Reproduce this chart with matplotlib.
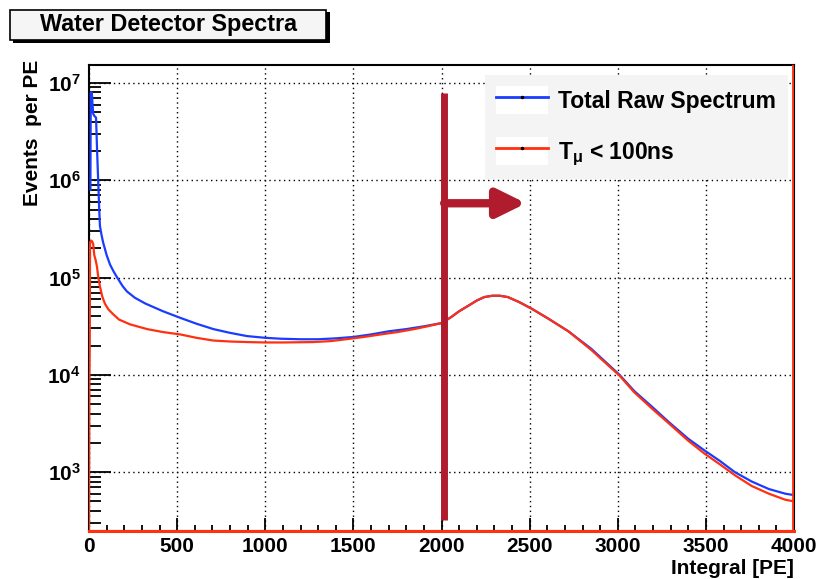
import matplotlib
matplotlib.use('Agg')
import matplotlib.pyplot as plt
from matplotlib.lines import Line2D
from matplotlib.patches import Rectangle, Patch
from matplotlib.legend_handler import HandlerTuple

# フォント設定（ROOT風のHelvetica太字）
plt.rcParams['font.family'] = ['Liberation Sans', 'DejaVu Sans']
plt.rcParams['font.weight'] = 'bold'
plt.rcParams['mathtext.fontset'] = 'custom'
plt.rcParams['mathtext.rm'] = 'Liberation Sans:bold'
plt.rcParams['mathtext.it'] = 'Liberation Sans:bold'
plt.rcParams['mathtext.bf'] = 'Liberation Sans:bold'

# 全スペクトル（青）
raw_x = [8, 10, 16, 20, 24, 30, 40, 46, 52, 58, 62, 70, 80, 100, 120, 140, 160,
         190, 215, 260, 320, 420, 518, 610, 706, 800, 897, 1000, 1087, 1200,
         1300, 1400, 1500, 1600, 1700, 1800, 1900, 2000, 2053, 2100, 2150,
         2200, 2243, 2290, 2330, 2376, 2440, 2510, 2604, 2720, 2850, 3010,
         3094, 3200, 3287, 3400, 3492, 3580, 3664, 3760, 3857, 3950, 4000]
raw_y = [8.0e5, 8.0e6, 8.0e6, 6.0e6, 4.8e6, 4.6e6, 4.4e6, 2.0e6, 1.0e6, 5.0e5,
         3.4e5, 2.8e5, 2.3e5, 1.7e5, 1.35e5, 1.15e5, 1.0e5, 8.2e4, 7.2e4,
         6.2e4, 5.4e4, 4.5e4, 3.85e4, 3.35e4, 2.95e4, 2.7e4, 2.5e4, 2.4e4,
         2.35e4, 2.32e4, 2.32e4, 2.37e4, 2.45e4, 2.6e4, 2.8e4, 2.95e4, 3.15e4,
         3.4e4, 3.9e4, 4.5e4, 5.1e4, 5.8e4, 6.3e4, 6.5e4, 6.5e4, 6.3e4, 5.6e4,
         4.8e4, 3.8e4, 2.8e4, 1.85e4, 1.0e4, 6.8e3, 4.6e3, 3.3e3, 2.2e3,
         1.67e3, 1.3e3, 1.0e3, 8.0e2, 6.7e2, 6.0e2, 5.8e2]

# T_mu < 100ns（赤）
cut_x = [0, 2, 4, 6, 12, 18, 24, 30, 38, 45, 53, 62, 75, 90, 110, 137, 170,
         233, 330, 420, 518, 610, 706, 800, 900, 1000, 1100, 1270, 1370, 1467,
         1560, 1655, 1750, 1845, 1920, 2000, 2053, 2100, 2150, 2200, 2243,
         2290, 2330, 2376, 2440, 2510, 2604, 2720, 2850, 3010, 3094, 3200,
         3287, 3400, 3492, 3580, 3664, 3760, 3857, 3950, 4000]
cut_y = [2.6e2, 8.0e3, 1.8e4, 2.3e5, 2.4e5, 2.35e5, 2.2e5, 1.7e5, 1.5e5, 1.3e5,
         1.0e5, 8.1e4, 6.4e4, 5.4e4, 4.7e4, 4.2e4, 3.7e4, 3.3e4, 2.95e4,
         2.75e4, 2.6e4, 2.4e4, 2.25e4, 2.2e4, 2.17e4, 2.15e4, 2.15e4, 2.17e4,
         2.22e4, 2.33e4, 2.45e4, 2.6e4, 2.75e4, 2.95e4, 3.15e4, 3.4e4, 3.9e4,
         4.5e4, 5.1e4, 5.8e4, 6.3e4, 6.5e4, 6.5e4, 6.3e4, 5.6e4, 4.8e4, 3.8e4,
         2.8e4, 1.8e4, 9.8e3, 6.6e3, 4.4e3, 3.2e3, 2.1e3, 1.55e3, 1.2e3,
         9.3e2, 7.2e2, 6.0e2, 5.2e2, 5.0e2]

# カット位置と矢印
cut_pos = 2015
cut_top = 7.9e6
cut_bottom = 3.2e2
arrow_y = 5.8e5
arrow_end = 2480

x_ticks = [0, 500, 1000, 1500, 2000, 2500, 3000, 3500, 4000]
y_ticks = [1e3, 1e4, 1e5, 1e6, 1e7]
y_tick_labels = [r'$10^{3}$', r'$10^{4}$', r'$10^{5}$', r'$10^{6}$', r'$10^{7}$']
x_lim = (0, 4000)
y_lim = (248, 1.53e7)

blue = '#1a3cff'
red = '#ff3010'
dark_red = '#b01c2e'

W, H = 818, 579
fig = plt.figure(figsize=(W / 100, H / 100), dpi=100)
ax = fig.add_axes([89 / W, 1 - 531 / H, (794 - 89) / W, (531 - 65) / H])

ax.set_yscale('log')
ax.set_xlim(*x_lim)
ax.set_ylim(*y_lim)

# グリッド（点線）
ax.grid(True, which='major', color='black', linestyle=(0, (1, 2.5)), linewidth=1.0)
ax.set_axisbelow(True)

ax.plot(raw_x, raw_y, color=blue, lw=1.6, zorder=3)
ax.plot(cut_x, cut_y, color=red, lw=1.6, zorder=4)
# 赤ヒストグラムの下端と右端
ax.axhline(y_lim[0], color=red, lw=2.2, zorder=4, clip_on=False)
ax.axvline(x_lim[1] - 8, color=red, lw=2.0, zorder=4)

# カット線と矢印
ax.plot([cut_pos, cut_pos], [cut_bottom, cut_top], color=dark_red, lw=5, zorder=5,
        solid_capstyle='butt')
ax.annotate('', xy=(arrow_end, arrow_y), xytext=(cut_pos, arrow_y),
            arrowprops=dict(arrowstyle='-|>,head_length=0.85,head_width=0.42',
                            color=dark_red, lw=6, shrinkA=0, shrinkB=0,
                            mutation_scale=20), zorder=5)

# 軸と目盛り
ax.set_xticks(x_ticks)
ax.set_xticks(range(0, 4001, 100), minor=True)
ax.set_yticks(y_ticks)
ax.set_yticklabels(y_tick_labels)
ax.tick_params(axis='both', which='both', direction='in', top=False, right=False,
               width=1.3, labelsize=15)
ax.tick_params(axis='y', which='major', length=16, pad=6)
ax.tick_params(axis='y', which='minor', length=8.5)
ax.tick_params(axis='x', which='major', length=9.5, pad=4)
ax.tick_params(axis='x', which='minor', length=4.5)
for s in ax.spines.values():
    s.set_linewidth(1.5)

fig.text(33 / W, 1 - 60 / H, 'Events  per PE', rotation=90, ha='center', va='top',
         fontsize=15)
fig.text(794 / W, 1 - 569 / H, 'Integral [PE]', ha='right', va='center', fontsize=15)

# 凡例（白い下地付きのサンプル）
white_box = Patch(fc='white', ec='none')
handles = [(white_box, Line2D([], [], color=blue, lw=2, marker='.', ms=3, mfc='k', mec='k')),
           (white_box, Line2D([], [], color=red, lw=2, marker='.', ms=3, mfc='k', mec='k'))]
labels = ['Total Raw Spectrum', r'T$_{\mu}$ < 100ns']
leg = ax.legend(handles, labels, loc='upper left', bbox_to_anchor=(485 / W, 1 - 75 / H),
                bbox_transform=fig.transFigure, frameon=True, fancybox=False,
                facecolor='#f4f4f4', edgecolor='none', framealpha=1,
                borderpad=0.5, handlelength=2.25, handleheight=1.5, handletextpad=0.45,
                labelspacing=1.0, fontsize=16.5, borderaxespad=0,
                handler_map={tuple: HandlerTuple(ndivide=1, pad=0)})
leg.set_zorder(6)

# タイトルボックス（影付き）
fig.patches.append(Rectangle((13 / W, 1 - 43 / H), 317 / W, 31 / H, transform=fig.transFigure,
                             fc='black', ec='none'))
fig.patches.append(Rectangle((10 / W, 1 - 40 / H), 316 / W, 30 / H, transform=fig.transFigure,
                             fc='#f5f5f5', ec='black', lw=1.2))
fig.text(168 / W, 1 - 24 / H, 'Water Detector Spectra', ha='center', va='center',
         fontsize=16.8)

fig.savefig('out.png', dpi=100)
